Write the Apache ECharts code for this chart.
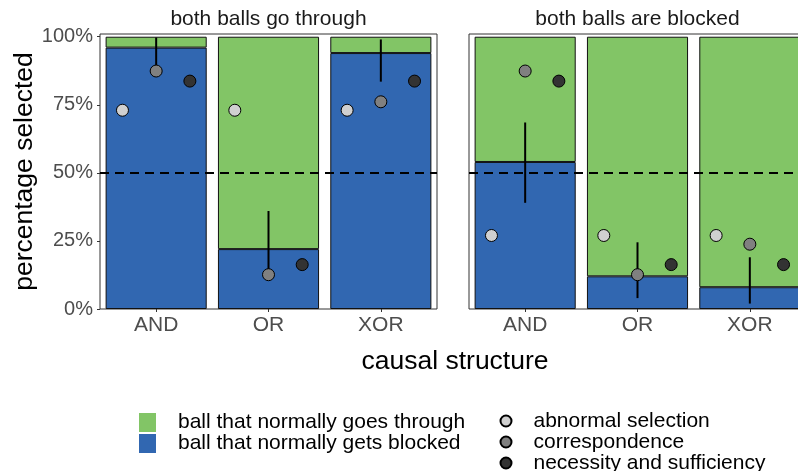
<!DOCTYPE html>
<html>
<head>
<meta charset="utf-8">
<script src="https://cdn.jsdelivr.net/npm/echarts@6/dist/echarts.min.js"></script>
<style>
  html, body { margin: 0; padding: 0; background: #fff; overflow: hidden; }
  /* wider than the window: the right panel runs past the edge in the original */
  #chart { width: 812px; height: 500px; }
</style>
</head>
<body>
<div id="chart"></div>
<script>
// data
var categories = ['AND', 'OR', 'XOR'];
var panelTitles = ['both balls go through', 'both balls are blocked'];
var yTicks = [0, 0.25, 0.5, 0.75, 1];

// share of "ball that normally gets blocked" (blue); green is the rest up to 100%
var blockedThrough = [0.96, 0.22, 0.94];
var blockedBlocked = [0.54, 0.12, 0.08];

// error bars (lower, upper)
var ciLowThrough = [0.89, 0.13, 0.835];
var ciHighThrough = [0.997, 0.36, 0.99];
var ciLowBlocked = [0.39, 0.04, 0.02];
var ciHighBlocked = [0.685, 0.245, 0.19];

// model points
var abnormalThrough = [0.73, 0.73, 0.73];
var abnormalBlocked = [0.27, 0.27, 0.27];
var corrThrough = [0.874, 0.126, 0.761];
var corrBlocked = [0.874, 0.126, 0.238];
var necThrough = [0.837, 0.163, 0.837];
var necBlocked = [0.837, 0.163, 0.163];

var FONT = '"Liberation Sans", Arial, sans-serif';
var GREEN = '#82C566', BLUE = '#3167B1';
var pointNames = ['abnormal selection', 'correspondence', 'necessity and sufficiency'];
var pointColors = ['#d0d0d0', '#808080', '#333333'];
var pointOffsets = [-0.3, 0, 0.3];
var barNames = ['ball that normally goes through', 'ball that normally gets blocked'];

var chart = echarts.init(document.getElementById('chart'));

var grids = [
  { left: 100, top: 34, width: 337, height: 275 },
  { left: 469, top: 34, width: 337, height: 275 }
];
grids.forEach(function (g) {
  g.show = true;
  g.borderColor = '#333';
  g.borderWidth = 1;
  g.backgroundColor = 'transparent';
  g.containLabel = false;
});

var xAxes = [], yAxes = [], series = [];
var panels = [
  { blocked: blockedThrough, lo: ciLowThrough, hi: ciHighThrough, pts: [abnormalThrough, corrThrough, necThrough] },
  { blocked: blockedBlocked, lo: ciLowBlocked, hi: ciHighBlocked, pts: [abnormalBlocked, corrBlocked, necBlocked] }
];

panels.forEach(function (p, i) {
  // category axis for bars
  xAxes.push({
    type: 'category', gridIndex: i, data: categories,
    axisLine: { show: false },
    axisTick: { show: true, alignWithLabel: true, length: 3, lineStyle: { color: '#333' } },
    axisLabel: { fontFamily: FONT, fontSize: 21, color: '#4d4d4d', margin: 6 }
  });
  // hidden value axis for dodged points and error bars
  xAxes.push({
    type: 'value', gridIndex: i, min: 0.5, max: 3.5, show: false
  });
  yAxes.push({
    type: 'value', gridIndex: i, min: 0, max: 1.01, interval: 0.25,
    splitLine: { show: false },
    axisLine: { show: false },
    axisTick: { show: i === 0, length: 3, lineStyle: { color: '#333' }, customValues: yTicks },
    axisLabel: {
      show: i === 0, fontFamily: FONT, fontSize: 20, color: '#4d4d4d', margin: 7,
      customValues: yTicks,
      formatter: function (v) { return Math.round(v * 100) + '%'; }
    },
    name: i === 0 ? 'percentage selected' : '',
    nameLocation: 'middle', nameRotate: 90, nameGap: 61,
    nameTextStyle: { fontFamily: FONT, fontSize: 26.5, color: '#000' }
  });

  var xc = i * 2, xv = i * 2 + 1;
  series.push({
    name: barNames[1], type: 'bar', stack: 's' + i, xAxisIndex: xc, yAxisIndex: i,
    barWidth: '90%', data: p.blocked,
    itemStyle: { color: BLUE, borderColor: '#111', borderWidth: 1 },
    emphasis: { disabled: true },
    markLine: {
      silent: true, symbol: 'none', label: { show: false },
      lineStyle: { color: '#000', type: [9, 6], width: 2 },
      data: [{ yAxis: 0.5 }]
    },
    z: 2
  });
  series.push({
    name: barNames[0], type: 'bar', stack: 's' + i, xAxisIndex: xc, yAxisIndex: i,
    barWidth: '90%', data: p.blocked.map(function (v) { return 1 - v; }),
    itemStyle: { color: GREEN, borderColor: '#111', borderWidth: 1 },
    emphasis: { disabled: true },
    z: 1
  });
  series.push({
    type: 'custom', xAxisIndex: xv, yAxisIndex: i, z: 4, silent: true,
    data: categories.map(function (c, k) { return [k + 1, p.lo[k], p.hi[k]]; }),
    renderItem: function (params, api) {
      var a = api.coord([api.value(0), api.value(1)]);
      var b = api.coord([api.value(0), api.value(2)]);
      return { type: 'line', shape: { x1: a[0], y1: a[1], x2: b[0], y2: b[1] },
        style: { stroke: '#000', lineWidth: 2 } };
    }
  });
  p.pts.forEach(function (vals, j) {
    series.push({
      name: pointNames[j], type: 'scatter', xAxisIndex: xv, yAxisIndex: i, z: 5,
      symbol: 'circle', symbolSize: 12,
      itemStyle: { color: pointColors[j], borderColor: '#000', borderWidth: 1, opacity: 1 },
      data: vals.map(function (v, k) { return [k + 1 + pointOffsets[j], v]; })
    });
  });
});

var option = {
  animation: false,
  backgroundColor: '#fff',
  grid: grids,
  xAxis: xAxes,
  yAxis: yAxes,
  title: [
    { text: panelTitles[0], left: 268.5, top: 9, textAlign: 'center', padding: 0,
      textStyle: { fontFamily: FONT, fontSize: 21, fontWeight: 'normal', color: '#1a1a1a' } },
    { text: panelTitles[1], left: 637.5, top: 9, textAlign: 'center', padding: 0,
      textStyle: { fontFamily: FONT, fontSize: 21, fontWeight: 'normal', color: '#1a1a1a' } },
    { text: 'causal structure', left: 455, top: 348, textAlign: 'center', padding: 0,
      textStyle: { fontFamily: FONT, fontSize: 26.5, fontWeight: 'normal', color: '#000' } }
  ],
  legend: [
    {
      data: barNames, orient: 'vertical', left: 139, top: 412, padding: 0,
      itemWidth: 17, itemHeight: 19, itemGap: 0, icon: 'rect',
      itemStyle: { borderWidth: 0 },
      selectedMode: false,
      textStyle: { fontFamily: FONT, fontSize: 21, color: '#000', lineHeight: 19, padding: [0, 0, 0, 17] }
    },
    {
      data: pointNames, orient: 'vertical', left: 499.5, top: 410.5, padding: 0,
      itemWidth: 11, itemHeight: 11, itemGap: 0, icon: 'circle',
      selectedMode: false,
      textStyle: { fontFamily: FONT, fontSize: 21, color: '#000', lineHeight: 20, padding: [0, 0, 0, 17] }
    }
  ],
  series: series
};

chart.setOption(option);
</script>
</body>
</html>
